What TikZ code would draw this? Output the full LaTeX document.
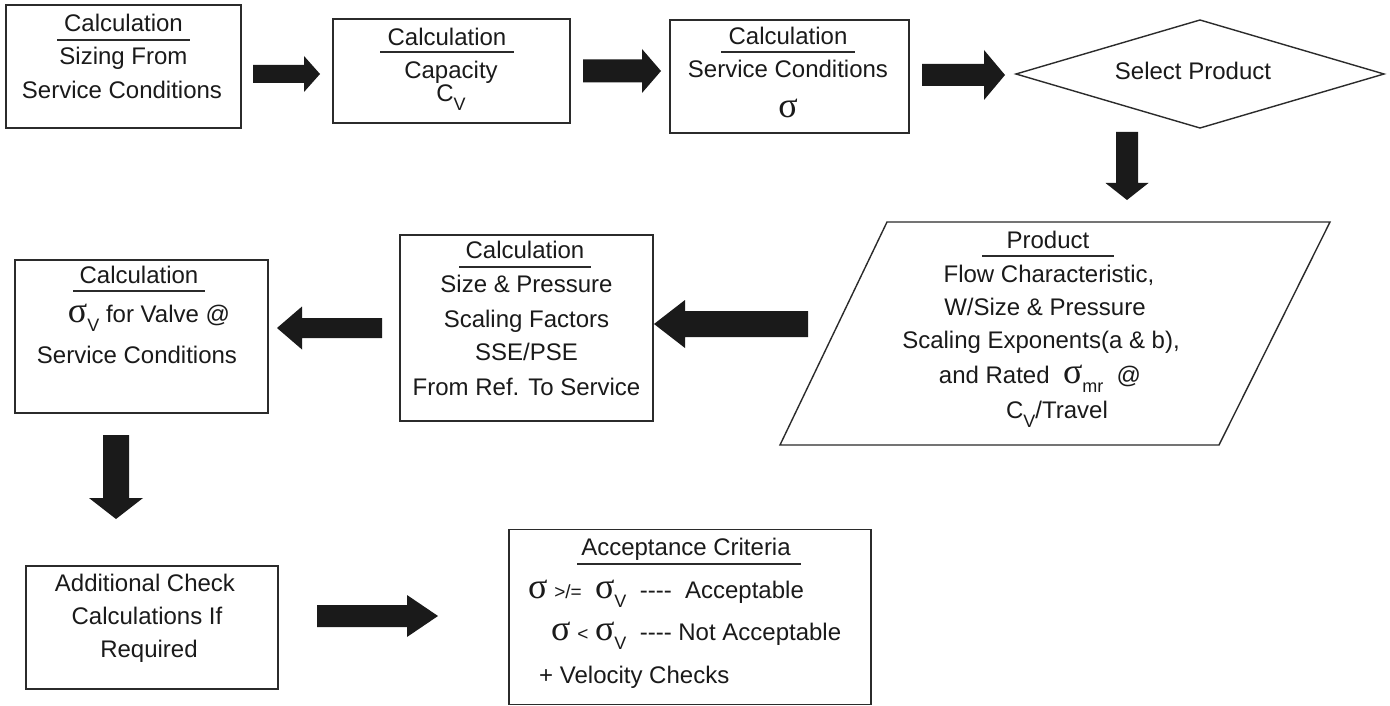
\documentclass[tikz,border=0pt]{standalone}
\usepackage{fontspec}
\setmainfont{Liberation Sans}
\newfontfamily\sigfont{Liberation Serif}
\usetikzlibrary{shapes.geometric}
\definecolor{ink}{HTML}{1A1A1A}
\definecolor{edge}{HTML}{2B2B2B}
\newcommand\sg{{\sigfont\fontsize{36}{36}\selectfont σ}}
\newcommand\subv[1]{\raisebox{-9pt}{\fontsize{18}{18}\selectfont #1}}
\newcommand\sm[1]{{\fontsize{19}{19}\selectfont #1}}
\newcommand\dashes{-{}-{}-{}-}
% horizontal fat arrow: start x, head-base x, tip x, y, shaft half, head half
\newcommand\fatH[6]{\fill[blk] (#1,#4-#5) -- (#2,#4-#5) -- (#2,#4-#6) -- (#3,#4) -- (#2,#4+#6) -- (#2,#4+#5) -- (#1,#4+#5) -- cycle;}
% vertical fat arrow: start y, head-base y, tip y, x, shaft half, head half
\newcommand\fatV[6]{\fill[blk] (#4-#5,#1) -- (#4-#5,#2) -- (#4-#6,#2) -- (#4,#3) -- (#4+#6,#2) -- (#4+#5,#2) -- (#4+#5,#1) -- cycle;}
\begin{document}
\begin{tikzpicture}[x=1pt,y=-1pt,
  box/.style={draw=edge,line width=1.4pt,inner sep=0pt},
  txt/.style={font=\fontsize{24}{28}\selectfont,text=ink,inner sep=0pt,anchor=base},
  uline/.style={draw=edge,line width=2.2pt},
  blk/.style={fill=ink}]
\fill[white] (0,0) rectangle (1390,706);
\useasboundingbox (0,0) rectangle (1390,706);

% Box 1
\node[box,minimum width=235,minimum height=123] (b1) at (123.5,66.5) {};
\node[txt] (b1a) at (123.5,32) {Calculation};
\draw[uline] (57,40) -- (190,40);
\node[txt] (b1b) at (123.5,65) {Sizing From};
\node[txt] (b1c) at (122,99) {Service Conditions};

% Box 2
\node[box,minimum width=237,minimum height=104] (b2) at (451.5,71) {};
\node[txt] (b2a) at (447,46) {Calculation};
\draw[uline] (380,52) -- (514,52);
\node[txt] (b2b) at (451,79) {Capacity};
\node[txt] (b2c) at (451,102) {C\subv{V}};

% Box 3
\node[box,minimum width=239,minimum height=113] (b3) at (789.5,76.5) {};
\node[txt] (b3a) at (788,45) {Calculation};
\draw[uline] (721,52) -- (855,52);
\node[txt] (b3b) at (788,78) {Service Conditions};
\node[txt] (b3c) at (788,118) {\sg};

% Diamond
\coordinate (dl) at (1016,74);
\coordinate (dt) at (1200,20);
\coordinate (dr) at (1384,74);
\coordinate (db) at (1200,128);
\draw[draw=edge,line width=1.4pt] (dl) -- (dt) -- (dr) -- (db) -- cycle;
\node[txt] (dtx) at (1193,80) {Select Product};

% Parallelogram
\coordinate (p1) at (887,222);
\coordinate (p2) at (1330,222);
\coordinate (p3) at (1219,445);
\coordinate (p4) at (780,445);
\draw[draw=edge,line width=1.4pt] (p1) -- (p2) -- (p3) -- (p4) -- cycle;
\node[txt] (pa) at (1048,248) {Product};
\draw[uline] (982,256) -- (1114,256);
\node[txt] (pb) at (1049,282) {Flow Characteristic,};
\node[txt] (pc) at (1045,315) {W/Size \& Pressure};
\node[txt] (pd) at (1041,348) {Scaling Exponents(a \& b),};
\node[txt] (pe) at (1040,383) {and Rated \ \sg\subv{mr}\ \ @};
\node[txt] (pf) at (1057,418) {C\subv{V}/Travel};

% Box 5
\node[box,minimum width=253,minimum height=186] (b5) at (526.5,328) {};
\node[txt] (b5a) at (525,258) {Calculation};
\draw[uline] (459,267) -- (591,267);
\node[txt] (b5b) at (526.5,292) {Size \& Pressure};
\node[txt] (b5c) at (526.5,327) {Scaling Factors};
\node[txt] (b5d) at (526.5,360) {SSE/PSE};
\node[txt] (b5e) at (526.5,395) {From Ref. To Service};

% Box 4
\node[box,minimum width=253,minimum height=153] (b4) at (141.5,336.5) {};
\node[txt] (b4a) at (139,283) {Calculation};
\draw[uline] (73,291) -- (205,291);
\node[txt] (b4b) at (149,322) {\sg\subv{V} for Valve @};
\node[txt] (b4c) at (137,363) {Service Conditions};

% Box 6
\node[box,minimum width=252,minimum height=123] (b6) at (152,627.5) {};
\node[txt] (b6a) at (145,591) {Additional Check};
\node[txt] (b6b) at (147,624) {Calculations If};
\node[txt] (b6c) at (149,657) {Required};

% Box 7
\node[box,minimum width=362,minimum height=175] (b7) at (690,617) {};
\node[txt] (b7a) at (686,555) {Acceptance Criteria};
\draw[uline] (577,564) -- (801,564);
\node[txt,anchor=base west] (b7b) at (528,598) {\sg\ \sm{>/=}\ \ \sg\subv{V}\ \ \dashes\ \ Acceptable};
\node[txt,anchor=base west] (b7c) at (551,640) {\sg\ \sm{<}\ \sg\subv{V}\ \ \dashes\ Not Acceptable};
\node[txt,anchor=base west] (b7d) at (539,683) {+ Velocity Checks};

% Block arrows
\fatH{253}{304}{320}{74}{9}{18}
\fatH{583}{642}{661}{71}{11.5}{22}
\fatH{922}{984}{1005}{75}{11}{25}
\fatV{132}{183}{200}{1127}{11}{21.5}
\fatH{808}{685}{654}{324}{13}{24}
\fatH{382}{302}{277}{328}{10}{21.5}
\fatV{435}{498}{519}{116}{13}{27}
\fatH{317}{407}{438}{616}{11}{21}
\end{tikzpicture}
\end{document}
